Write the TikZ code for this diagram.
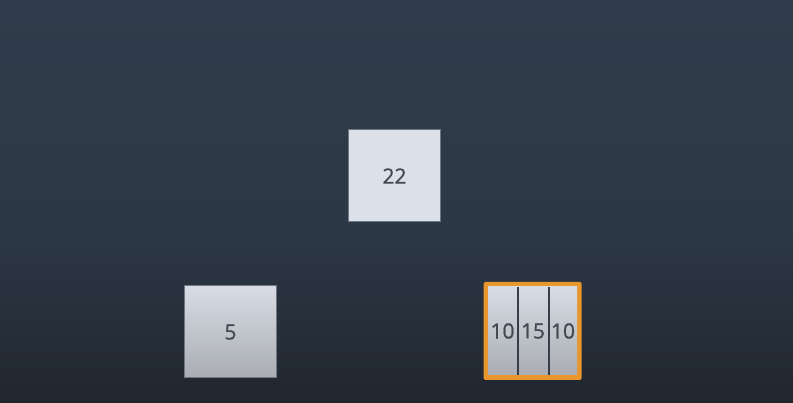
\documentclass[tikz,border=0pt]{standalone}
\usepackage{fontspec}
\setmainfont{Open Sans}
\newfontfamily\numfont{Open Sans}[BoldFont={Open Sans},BoldFeatures={FakeBold=0.9}]
\definecolor{bgtop}{HTML}{303C4B}
\definecolor{bgmid}{HTML}{2D3846}
\definecolor{bgbot}{HTML}{20262E}
\definecolor{boxlight}{HTML}{DCE0E8}
\definecolor{boxtop}{HTML}{D8DCE4}
\definecolor{boxbot}{HTML}{A9ADB3}
\definecolor{boxedge}{HTML}{6E7885}
\definecolor{txt}{HTML}{454A52}
\definecolor{orng}{HTML}{E8962E}
\definecolor{divider}{HTML}{363E48}
\pgfdeclareverticalshading{bgshade}{100bp}{color(0bp)=(bgbot); color(25bp)=(bgbot); color(33bp)=(bgbot!60!bgmid); color(47bp)=(bgmid); color(75bp)=(bgtop); color(100bp)=(bgtop)}
\begin{document}
\begin{tikzpicture}[x=1pt,y=-1pt,
  numtext/.style={font=\numfont\bfseries\fontsize{21}{25}\selectfont, text=txt, inner sep=0pt},
  flatbox/.style={draw=boxedge, line width=1.2pt, fill=boxlight},
  gradbox/.style={draw=boxedge, line width=1.2pt, top color=boxtop, bottom color=boxbot}]
\useasboundingbox (0,0) rectangle (793,403);
\shade[shading=bgshade] (0,0) rectangle (793,403);
% box 22
\draw[flatbox] (348.5,129.5) rectangle (440.5,221.5);
\node[numtext] (a) at (394.5,176) {22};
% box 5
\draw[gradbox] (184.5,285.5) rectangle (276.5,377.5);
\node[numtext] (b) at (230.5,332) {5};
% orange box
\fill[orng, rounded corners=1.5pt] (483.5,282) rectangle (581.5,380);
\shade[top color=boxtop, bottom color=boxbot] (488,287) rectangle (577,375);
\draw[divider, line width=2pt] (517.5,287) -- (517.5,375);
\draw[divider, line width=2pt] (548.5,287) -- (548.5,375);
\node[numtext] (c1) at (502.5,331) {10};
\node[numtext] (c2) at (533,331) {15};
\node[numtext] (c3) at (563,331) {10};
\end{tikzpicture}
\end{document}
